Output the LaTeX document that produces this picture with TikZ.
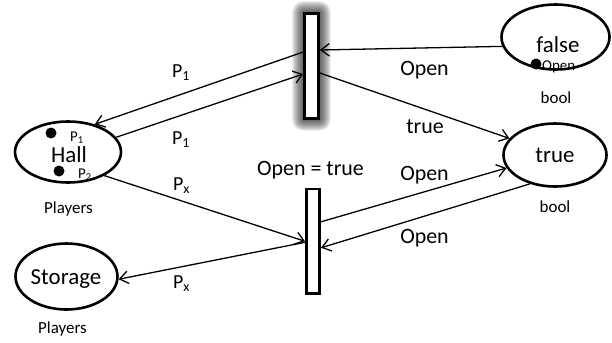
\documentclass[tikz,border=0pt]{standalone}
\usepackage{fontspec}
\setmainfont{Carlito}
\usetikzlibrary{shapes.geometric,arrows.meta,calc,backgrounds}

\begin{document}
\begin{tikzpicture}[x=1bp,y=-1bp,
  place/.style={draw,ellipse,line width=2.6bp,inner sep=0pt},
  trans/.style={draw,rectangle,line width=2.6bp,fill=white,inner sep=0pt},
  arc/.style={line width=1.3bp,-{Straight Barb[length=8.5bp,width=12.5bp]}},
  lbl/.style={font=\fontsize{22}{26}\selectfont,inner sep=0pt,anchor=base},
  plbl/.style={font=\fontsize{20}{24}\selectfont,inner sep=0pt,anchor=base west},
  big/.style={font=\fontsize{23}{27}\selectfont,inner sep=0pt,anchor=base,text depth=0pt},
  small/.style={font=\fontsize{17}{20}\selectfont,inner sep=0pt,anchor=base},
  tok/.style={circle,fill=black,minimum size=11bp,inner sep=0pt},
  toklbl/.style={font=\fontsize{15}{18}\selectfont,inner sep=0pt,anchor=base west},
  glow/.style={fill=black,opacity=0.075},
]
\useasboundingbox (0,0) rectangle (612,342);

% places
\node[place,minimum width=106bp,minimum height=61bp] (hall) at (68,152) {};
\node[place,minimum width=102bp,minimum height=66bp] (storage) at (66.5,276.5) {};
\node[place,minimum width=108bp,minimum height=65bp] (false) at (555.5,37) {};
\node[place,minimum width=103bp,minimum height=63bp] (true) at (555,155) {};

% place contents
\node[big] (hallname) at (69,162) {Hall};
\node[big] (storagename) at (66,284) {Storage};
\node[big] (falsename) at (558,52) {false};
\node[big] (truename) at (555,162) {true};

\node[tok] (tokA) at (51,133) {};
\node[toklbl] (tokAl) at (70,141) {P\textsubscript{1}};
\node[tok] (tokB) at (59,171) {};
\node[toklbl] (tokBl) at (78,178) {P\textsubscript{2}};
\node[tok] (tokC) at (536,64) {};
\node[toklbl] (tokCl) at (542,70) {Open};

% types
\node[small] (typeHall) at (68.5,213) {Players};
\node[small] (typeStorage) at (62.5,333) {Players};
\node[small] (typeFalse) at (556,103) {bool};
\node[small] (typeTrue) at (555,212) {bool};

% transitions
\node[trans,minimum width=14bp,minimum height=105bp] (t1) at (311.5,66) {};
\node[trans,minimum width=13.4bp,minimum height=104.7bp] (t2) at (313,241.3) {};

% soft grey halo behind the enabled transition
\begin{scope}[on background layer]
  \foreach \r in {1,...,11}
    \fill[glow,rounded corners=\r bp] ($(t1.north west)+(-\r,-\r)$) rectangle ($(t1.south east)+(\r,\r)$);
\end{scope}

% arcs
\draw[arc] (false.190) -- ($(t1.east)+(0,-16)$);
\draw[arc] ($(t1.west)+(0,-14)$) -- (hall.46);
\draw[arc] (hall.17) -- ($(t1.west)+(0,8)$);
\draw[arc] ($(t1.east)+(0,7)$) -- (true.160);
\draw[arc] (hall.-33) -- (t2.west);
\draw[arc] ($(t2.west)+(0,1)$) -- (storage.-3);
\draw[arc] ($(t2.east)+(0,-19.5)$) -- (true.195);
\draw[arc] (true.229) -- ($(t2.east)+(0,6.5)$);

% arc labels
\node[plbl] (lp1a) at (172,77) {P\textsubscript{1}};
\node[plbl] (lp1b) at (172,144) {P\textsubscript{1}};
\node[plbl] (lpxa) at (173,190) {P\textsubscript{x}};
\node[plbl] (lpxb) at (173,288) {P\textsubscript{x}};
\node[lbl] (lopen1) at (424.5,75) {Open};
\node[lbl] (ltrue) at (425,133) {true};
\node[lbl] (lopen2) at (424.5,180) {Open};
\node[lbl] (lopen3) at (424.5,243) {Open};
\node[lbl] (guard) at (310.5,175) {Open = true};
\end{tikzpicture}
\end{document}
